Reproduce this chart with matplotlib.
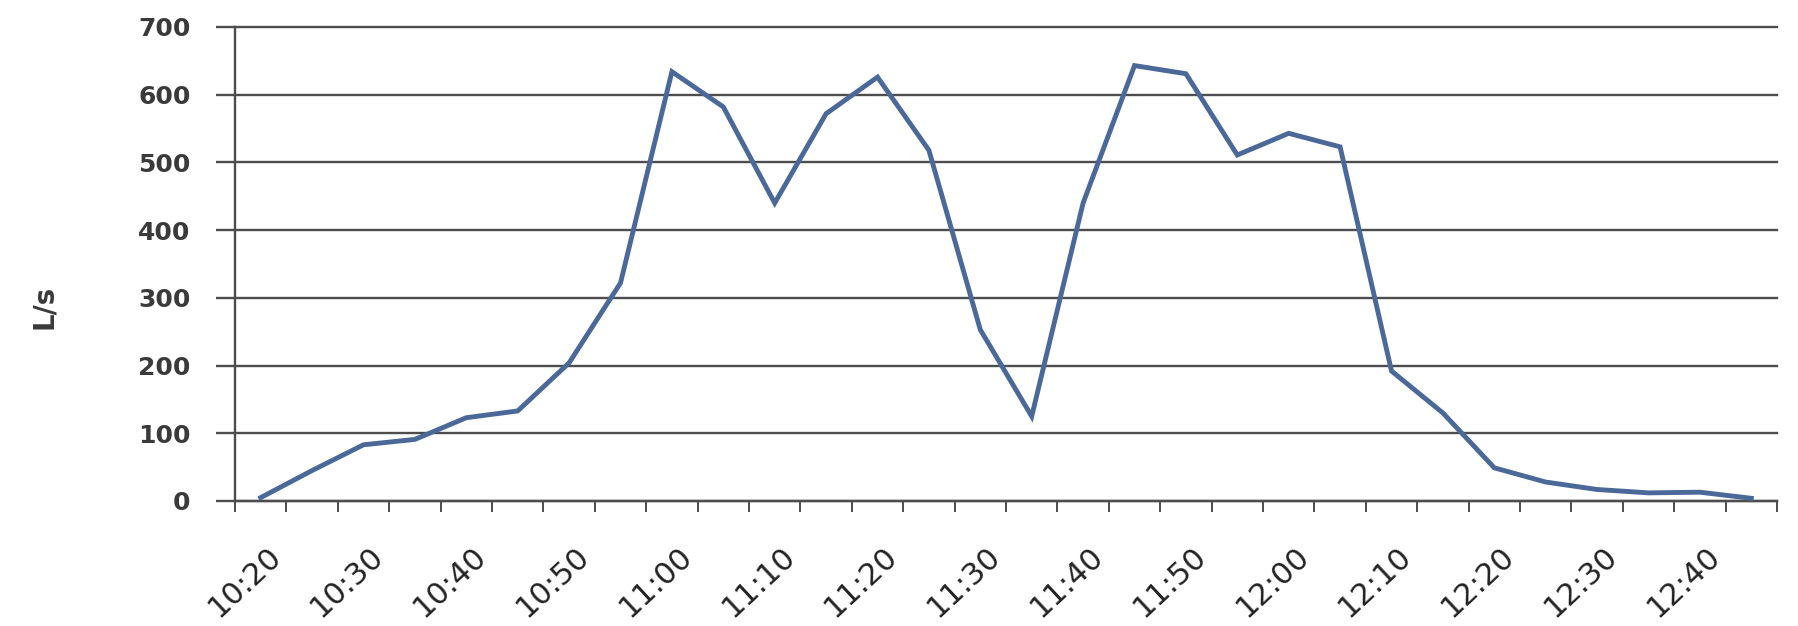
import matplotlib

matplotlib.use("Agg")
import matplotlib.pyplot as plt  # noqa: E402
from matplotlib.transforms import ScaledTranslation  # noqa: E402

# 5-minute samples, 10:20 .. 12:45
times = ["10:20", "10:25", "10:30", "10:35", "10:40", "10:45", "10:50", "10:55",
         "11:00", "11:05", "11:10", "11:15", "11:20", "11:25", "11:30", "11:35",
         "11:40", "11:45", "11:50", "11:55", "12:00", "12:05", "12:10", "12:15",
         "12:20", "12:25", "12:30", "12:35", "12:40", "12:45"]
flow = [5, 45, 83, 91, 123, 133, 204, 322, 634, 582,
        440, 572, 626, 518, 253, 125, 440, 643, 631, 511,
        543, 523, 192, 130, 49, 28, 17, 12, 13, 4]
y_ticks = [0, 100, 200, 300, 400, 500, 600, 700]

GRID = "#4d4d4d"

fig = plt.figure(figsize=(17.99, 6.26), dpi=100)
ax = fig.add_axes([235 / 1799, 1 - 501 / 626, 1542 / 1799, 474 / 626])

x = list(range(len(times)))
ax.plot(x, flow, color="#4a6898", lw=3.5, solid_joinstyle="miter", zorder=3)

ax.set_xlim(-0.5, len(times) - 0.5)
ax.set_ylim(0, 700)

# category boundaries carry the tick marks, every other category gets a label
ax.set_xticks([i - 0.5 for i in range(len(times) + 1)])
ax.set_xticklabels([])
ax.set_xticks(x[::2], minor=True)
ax.set_xticklabels(times[::2], minor=True, rotation=43, ha="right", va="top",
                   rotation_mode="anchor", fontsize=22, color="#222222")
ax.tick_params(axis="x", which="major", direction="out", length=8, width=1.4, color=GRID)
ax.tick_params(axis="x", which="minor", length=0, pad=29)
shift = ScaledTranslation(6 / 100, 0, fig.dpi_scale_trans)
for lab in ax.xaxis.get_minorticklabels():
    lab.set_transform(lab.get_transform() + shift)

ax.set_yticks(y_ticks)
ax.set_yticklabels([str(v) for v in y_ticks], fontsize=18, fontweight="bold", color="#3a3a3a")
ax.tick_params(axis="y", direction="out", length=14, width=1.7, color=GRID, pad=18)
ax.yaxis.grid(True, color=GRID, lw=1.7)
for gl in ax.get_ygridlines():
    gl.set_clip_on(False)
ax.set_axisbelow(True)

for s in ("top", "right"):
    ax.spines[s].set_visible(False)
for s in ("left", "bottom"):
    ax.spines[s].set_color(GRID)
    ax.spines[s].set_linewidth(1.7)

fig.text(44 / 1799, 1 - 307 / 626, "L/s", rotation=90, ha="center", va="center",
         fontsize=20, fontweight="bold", color="#3a3a3a")

fig.savefig("out.png", dpi=100, facecolor="white")
